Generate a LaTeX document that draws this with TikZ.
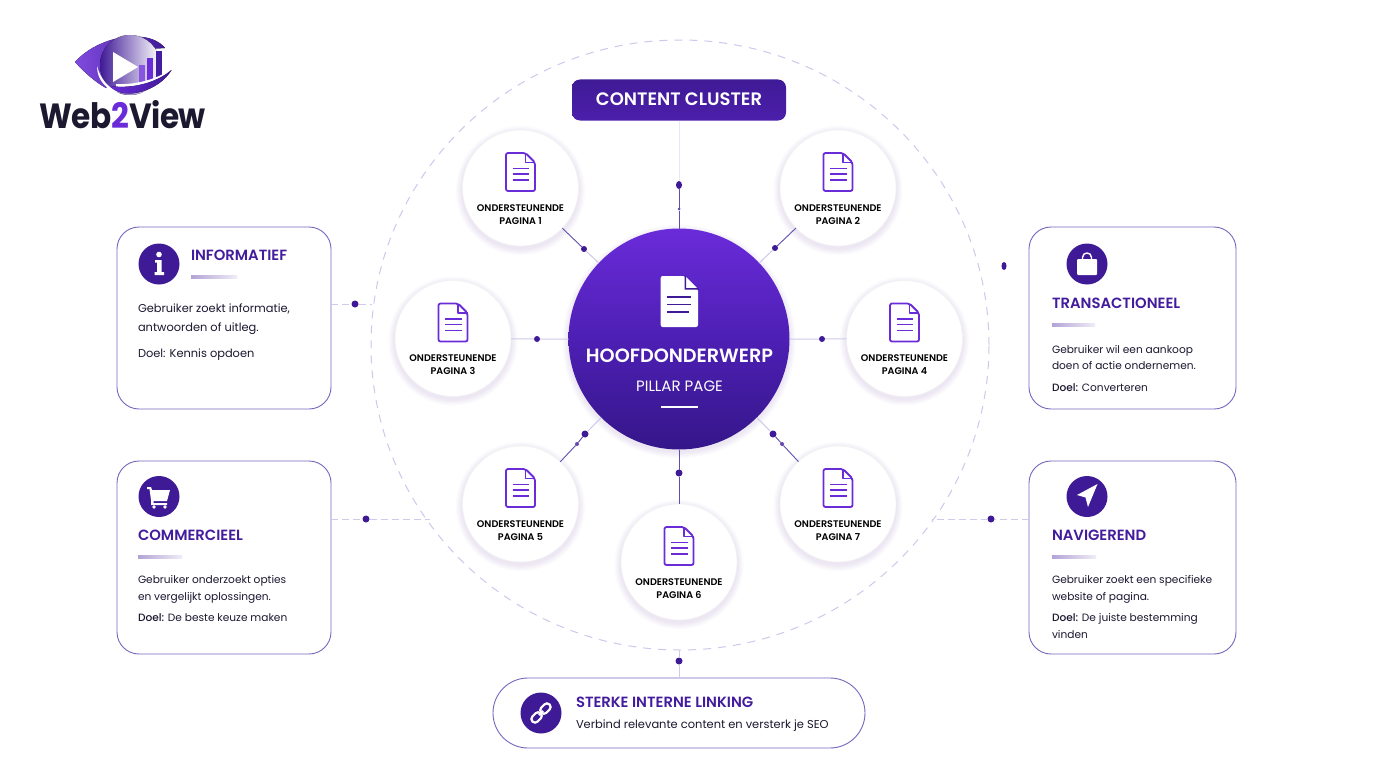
\documentclass[tikz,border=0pt]{standalone}
\usepackage{fontspec}
\usepackage{graphicx}
\setmainfont{Poppins}[BoldFont={* SemiBold}]
\newfontfamily\medf{Poppins Medium}
\newfontfamily\logof{Poppins}[UprightFont={* Bold},LetterSpace=-2]
\usetikzlibrary{calc,shapes.geometric}
\definecolor{deep}{HTML}{3F1A96}
\definecolor{vio}{HTML}{6A2BD9}
\definecolor{ttl}{HTML}{431C9E}
\definecolor{edge}{HTML}{7468BE}
\definecolor{ringc}{HTML}{CFC8EC}
\definecolor{lnk}{HTML}{5F50AE}
\definecolor{lnkl}{HTML}{CFC9EA}
\definecolor{ink}{HTML}{1B1830}
\definecolor{hubm}{HTML}{4D1FB4}
\definecolor{hubb}{HTML}{351689}
\tikzset{
  x=1pt,y=-1pt,
  infobox/.style={draw=edge,line width=.9pt,fill=white,rounded corners=22pt,inner sep=0pt,outer sep=0pt},
  sat/.style={circle,fill=white,draw=black!5,line width=.6pt,minimum size=116pt,inner sep=0pt,outer sep=0pt},
  hubc/.style={circle,minimum size=221pt,inner sep=0pt,outer sep=0pt,top color=vio,bottom color=hubb,middle color=hubm},
  dotn/.style={circle,fill=deep,minimum size=7pt,inner sep=0pt,outer sep=0pt},
  smalldot/.style={circle,fill=deep!80!white,minimum size=4pt,inner sep=0pt,outer sep=0pt},
  icondisc/.style={circle,fill=deep,minimum size=41pt,inner sep=0pt},
  tx/.style={anchor=base west,inner sep=0pt,outer sep=0pt,text=ink},
  ttlt/.style={tx,text=ttl,font=\fontsize{14.8}{16}\selectfont\bfseries},
  body/.style={tx,font=\fontsize{10.6}{13}\selectfont},
  bodyb/.style={tx,font=\fontsize{11.4}{14}\selectfont},
  satt/.style={anchor=base,inner sep=0pt,text=black,font=\fontsize{9.6}{11}\selectfont\bfseries},
  strong/.style={draw=lnk,line width=.9pt},
  soft/.style={draw=lnkl,line width=1pt},
  softd/.style={draw=lnkl,line width=1pt,dash pattern=on 7pt off 4pt},
  docicon/.pic={
    \draw[vio,line width=1.8pt,line join=round,rounded corners=2pt] (-14.5,-19) -- (5,-19) -- (14.5,-9.5) -- (14.5,19) -- (-14.5,19) -- cycle;
    \draw[vio,line width=1.4pt,line join=round] (5,-19) -- (5,-9.5) -- (14.5,-9.5);
    \draw[vio,line width=1.8pt] (-8,-3.5) -- (8.5,-3.5) (-8,2) -- (8.5,2) (-8,8) -- (8.5,8);
  }
}
\newcommand{\softshadow}[3]{%
  \foreach \k in {1,...,6}{\fill[deep,opacity=.014] (#1,#2+2.5) circle ({#3+\k*1.1});}}
\newcommand{\barline}[3]{%
  \fill[left color=deep!40!white,right color=deep!8!white] (#1,#3-1.5) rectangle (#2,#3+1.5);}
\begin{document}
\begin{tikzpicture}
\useasboundingbox (0,0) rectangle (1376,768);
\fill[white] (0,0) rectangle (1376,768);

% ring
\node[ellipse,minimum width=618pt,minimum height=610pt,inner sep=0pt,outer sep=0pt,draw=ringc,line width=1pt,dash pattern=on 8pt off 7pt] (ring) at (680,345) {};

% shadows
\foreach \a/\b in {520.5/188,838/188,453/338.5,904.5/338.5,520.5/504,679/562,838/504}{\softshadow{\a}{\b}{58}}
\softshadow{679}{339}{110}

% satellites
\foreach \n/\a/\b in {1/520.5/188,2/838/188,3/453/338.5,4/904.5/338.5,5/520.5/504,6/679/562,7/838/504}{
  \node[sat] (p\n) at (\a,\b) {};
  \pic at (\a,\b-16) {docicon};
  \node[satt] (pa\n) at (\a,\b+23) {ONDERSTEUNENDE};
  \node[satt] (pb\n) at (\a,\b+36) {PAGINA \n};
}

% hub
\node[hubc] (hub) at (679,339) {};
\fill[white,rounded corners=2pt] (660.7,276) -- (685,276) -- (698,289) -- (698,327) -- (660.7,327) -- cycle;
\fill[deep] (684.5,275.5) -- (684.5,289.5) -- (698.5,289.5) -- (698.5,288) -- (686,288) -- (686,275.5) -- cycle;
\draw[deep,line width=1.6pt] (667,297) -- (691,297) (667,304.5) -- (691,304.5) (667,312) -- (689,312);
\node[anchor=base,inner sep=0pt,text=white,font=\fontsize{19.2}{21}\selectfont\bfseries] (hubt) at (679.5,362.5) {HOOFDONDERWERP};
\node[anchor=base,inner sep=0pt,text=white,font=\fontsize{15}{17}\selectfont] (hubs) at (679.5,391) {PILLAR PAGE};
\draw[white,line width=2pt] (661,407) -- (698,407);

% content cluster
\node[rounded corners=8pt,minimum width=214pt,minimum height=41pt,inner sep=0pt,outer sep=0pt,top color=deep,bottom color=deep!70!vio] (cc) at (679,100) {};
\node[anchor=base,inner sep=0pt,text=white,font=\fontsize{18}{20}\selectfont\bfseries] (cct) at (679,106) {CONTENT CLUSTER};

% dots on the spokes
\node[dotn,minimum width=6pt,minimum height=8pt,ellipse] (dt) at (679,185) {};
\node[smalldot,minimum size=3pt] (dts) at (679,209) {};
\node[dotn,minimum size=6pt] (d1) at (584,249) {};
\node[dotn,minimum size=6pt] (d2) at (775,248) {};
\node[dotn,minimum size=6pt] (d3) at (537,339) {};
\node[dotn,minimum size=6pt] (d4) at (822,339) {};
\node[dotn] (d5) at (585,434) {};
\node[smalldot] (d5s) at (577,444) {};
\node[dotn,minimum size=7pt] (d6) at (679,473) {};
\node[dotn] (d7) at (773,434) {};
\node[smalldot] (d7s) at (782,444) {};

% spokes
\draw[lnkl!45!white,line width=.6pt] (cc) -- (dt);
\draw[lnk,line width=.7pt] (dt) -- (dts) -- (hub.north);
\draw[strong] (p1) -- (d1);
\draw[soft] (d1) -- (hub);
\draw[strong] (p2) -- (d2);
\draw[soft] (d2) -- (hub);
\draw[soft] (p3) -- (d3) -- (hub);
\draw[soft] (p4) -- (d4) -- (hub);
\draw[strong] (p5) -- (d5s) -- (d5);
\draw[soft] (d5) -- (hub);
\draw[lnk,line width=.7pt] (hub) -- (d6) -- (p6);
\draw[strong] (p7) -- (d7s) -- (d7);
\draw[soft] (d7) -- (hub);

% boxes
\node[infobox,minimum width=214pt,minimum height=182pt] (binf) at (224,318) {};
\node[infobox,minimum width=214pt,minimum height=193pt] (bcom) at (224,557.5) {};
\node[infobox,minimum width=207pt,minimum height=182pt] (btra) at (1132.5,318) {};
\node[infobox,minimum width=207pt,minimum height=193pt] (bnav) at (1132.5,557.5) {};
\node[infobox,rounded corners=35pt,minimum width=372pt,minimum height=70pt] (blin) at (679,713) {};

% outer connectors
\coordinate (ci) at (372,304);
\coordinate (cc2) at (430,519);
\coordinate (cn) at (932,519);
\node[dotn] (di) at (355,304) {};
\node[dotn] (dc) at (366,519) {};
\node[dotn] (dn) at (991,519) {};
\node[dotn,ellipse,minimum width=5pt,minimum height=8pt] (dtr) at (1004,266) {};
\node[dotn] (dl) at (679,661) {};
\draw[softd] (binf.east |- ci) -- (di) -- (ci);
\draw[softd] (bcom.east |- cc2) -- (dc) -- (cc2);
\draw[softd] (bnav.west |- cn) -- (dn) -- (cn);
\coordinate (cl) at (679,650);
\draw[soft] (cl) -- (dl) -- (blin.north);

% Informatief
\node[icondisc] (iinf) at (159,264) {};
\fill[white] (159,254.5) circle (2.8);
\fill[white] (155,260) -- (161.5,260) -- (161.5,272) -- (164,272) -- (164,275) -- (154.5,275) -- (154.5,272) -- (157,272) -- (157,262.5) -- (155,262.5) -- cycle;
\node[ttlt] (tinf) at (191,260) {INFORMATIEF};
\barline{191}{237}{276.5}
\node[bodyb] at (138,312.5) {Gebruiker zoekt informatie,};
\node[bodyb] at (138,331) {antwoorden of uitleg.};
\node[bodyb] at (138,357.5) {Doel: Kennis opdoen};

% Commercieel
\node[icondisc] (icom) at (159,496.5) {};
\fill[white] (147,487) -- (151,487) -- (152,490) -- (170,490) -- (167,501) -- (153.5,501) -- (153.5,503) -- (167,503) -- (167,505) -- (151,505) -- (151,500) -- (149.5,489) -- (147,489) -- cycle;
\fill[white] (154,507) circle (1.9) (165,507) circle (1.9);
\node[ttlt] (tcom) at (138,540) {COMMERCIEEL};
\barline{138}{182}{556.5}
\node[body] at (138,583.3) {Gebruiker onderzoekt opties};
\node[body] at (138,600) {en vergelijkt oplossingen.};
\node[body] at (138,621) {{\medf Doel:} De beste keuze maken};

% Transactioneel
\node[icondisc] (itra) at (1087,264) {};
\fill[white,rounded corners=1pt] (1077,259) rectangle (1097,275);
\draw[white,line width=1.4pt] (1082.5,260) -- (1082.5,257.5) .. controls (1082.5,251.5) and (1091.5,251.5) .. (1091.5,257.5) -- (1091.5,260);
\node[ttlt] (ttra) at (1052,308) {TRANSACTIONEEL};
\barline{1052}{1095}{325}
\node[body] at (1052,353.5) {Gebruiker wil een aankoop};
\node[body] at (1052,369.5) {doen of actie ondernemen.};
\node[body] at (1052,391.5) {{\medf Doel:} Converteren};

% Navigerend
\node[icondisc] (inav) at (1087,496.5) {};
\fill[white,line join=round] (1077,495) -- (1097.5,484) -- (1088,507) -- (1085.5,497.5) -- cycle;
\node[ttlt] (tnav) at (1052,540) {NAVIGEREND};
\barline{1052}{1096}{556.5}
\node[body] at (1052,583.3) {Gebruiker zoekt een specifieke};
\node[body] at (1052,600) {website of pagina.};
\node[body] at (1052,621) {{\medf Doel:} De juiste bestemming};
\node[body] at (1052,638) {vinden};

% Sterke interne linking
\node[icondisc] (ilin) at (541,713) {};
\begin{scope}[shift={(541,713)},rotate=45]
  \draw[white,line width=2.2pt,rounded corners=3.4pt] (-12,-3.6) rectangle (-0.5,3.6);
  \draw[white,line width=2.2pt,rounded corners=3.4pt] (0.5,-3.6) rectangle (12,3.6);
  \draw[white,line width=2.2pt] (-3,0) -- (3,0);
\end{scope}
\node[ttlt] (tlin) at (576,707.5) {STERKE INTERNE LINKING};
\node[tx,font=\fontsize{11.45}{14}\selectfont] at (576,728.5) {Verbind relevante content en versterk je SEO};

% logo
\fill[left color=vio!85!white,right color=deep] (75,62) .. controls (90,45) and (118,34) .. (142,37) .. controls (152,38) and (160,42) .. (165,48) -- (130,50) -- (106,88) .. controls (95,82) and (84,72) .. (75,62) -- cycle;
\fill[left color=deep,middle color=vio!80!white,right color=white] (130,65) circle (30);
\fill[white] (113,52) -- (138,67) -- (113,82) -- cycle;
\fill[vio!80!white] (139,65.5) rectangle (145,82);
\fill[vio] (147,58) rectangle (153,80);
\fill[deep!85!vio] (156,51) rectangle (162,77);
\fill[white] (97,66) .. controls (100,78) and (108,88) .. (120,93) .. controls (106,90) and (97,80) .. (97,66) -- cycle;
\fill[white] (116,84) .. controls (135,85) and (155,80) .. (172,69) .. controls (155,86) and (135,90) .. (116,88) -- cycle;
\fill[left color=vio,right color=deep] (110,86) .. controls (130,89) and (155,84) .. (171.5,70) .. controls (160,90) and (125,102) .. (110,86) -- cycle;
\node[anchor=base west,inner sep=0pt,font=\fontsize{35}{37}\logof] (logo) at (39.5,128) {\scalebox{.89}[1]{\textcolor{ink}{Web}\textcolor{vio}{2}\textcolor{ink}{View}}};
\end{tikzpicture}
\end{document}
